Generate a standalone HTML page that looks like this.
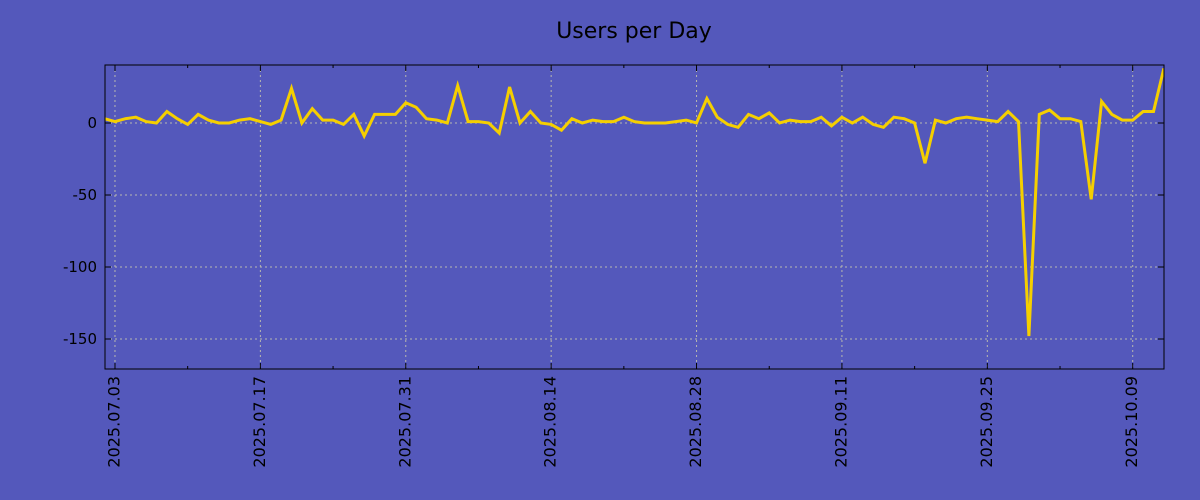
<!DOCTYPE html>
<html><head><meta charset="utf-8"><style>
html,body{margin:0;padding:0;background:#5458bb;}
svg{display:block;font-family:"DejaVu Sans","Liberation Sans",sans-serif;}
</style></head><body>
<svg id="chart" width="1200" height="500" viewBox="0 0 1200 500" xmlns="http://www.w3.org/2000/svg">
<rect x="0" y="0" width="1200" height="500" fill="#5458bb"/>
<text x="634" y="38" font-size="22" text-anchor="middle" fill="#000">Users per Day</text>
<g id="grid"></g>
<g id="series"></g>
<g id="axes"></g>
</svg>
<script>
const values = [3,1,3,4,1,0,8,3,-1,6,2,0,0,2,3,1,-1,2,24,0,10,2,2,-1,6,-9,6,6,6,14,11,3,2,0,26,1,1,0,-7,25,0,8,0,-1,-5,3,0,2,1,1,4,1,0,0,0,1,2,0,17,4,-1,-3,6,3,7,0,2,1,1,4,-2,4,0,4,-1,-3,4,3,0,-28,2,0,3,4,3,2,1,8,1,-148,6,9,3,3,1,-53,15,6,2,2,8,8,38];
const yTicks = [0,-50,-100,-150];
const xLabels = ["2025.07.03","2025.07.17","2025.07.31","2025.08.14","2025.08.28","2025.09.11","2025.09.25","2025.10.09"];
const xLabelDays = [1,15,29,43,57,71,85,99];
const minorTickDays = [8,22,36,50,64,78,92];

const L=105,R=1164,T=65,B=369;
const xs = d => 104.6 + d*10.385;
const ys = v => 123 - v*1.44;
const NS="http://www.w3.org/2000/svg";
function mk(tag, attrs, parent){const e=document.createElementNS(NS,tag);for(const k in attrs)e.setAttribute(k,attrs[k]);parent.appendChild(e);return e;}
const grid=document.getElementById('grid'), series=document.getElementById('series'), axes=document.getElementById('axes');

yTicks.forEach(v=>{
  const g=mk('line',{x1:L,x2:R,y1:ys(v),y2:ys(v),stroke:'#b8b8b0','stroke-width':1,'stroke-dasharray':'2,3'},grid);
  
  
});
xLabelDays.forEach(d=>{
  const g=mk('line',{x1:xs(d),x2:xs(d),y1:T,y2:B,stroke:'#b8b8b0','stroke-width':1,'stroke-dasharray':'2,3'},grid);
  
  
});

const clip=mk('clipPath',{id:'pc'},document.getElementById('chart'));
mk('rect',{x:L,y:T,width:R-L,height:B-T},clip);
const pts=values.map((v,i)=>xs(i).toFixed(1)+','+ys(v).toFixed(1)).join(' ');
const line=mk('polyline',{points:pts,fill:'none',stroke:'#f5cf00','stroke-width':3,'stroke-linejoin':'miter','clip-path':'url(#pc)'},series);



const frame=mk('rect',{x:L,y:T,width:R-L,height:B-T,fill:'none',stroke:'#000','stroke-width':1},axes);



yTicks.forEach(v=>{
  const y=ys(v);
  mk('line',{x1:L,x2:L+6,y1:y,y2:y,stroke:'#000'},axes);
  mk('line',{x1:R-6,x2:R,y1:y,y2:y,stroke:'#000'},axes);
  const t=mk('text',{x:L-8,y:y+5,'font-size':15,'text-anchor':'end',fill:'#000'},axes);
  t.textContent=v;
  
  
});
xLabelDays.forEach((d,i)=>{
  const x=xs(d);
  mk('line',{x1:x,x2:x,y1:B,y2:B-6,stroke:'#000'},axes);
  mk('line',{x1:x,x2:x,y1:T,y2:T+6,stroke:'#000'},axes);
  const t=mk('text',{x:0,y:0,'font-size':16,'text-anchor':'end',fill:'#000',transform:`translate(${x+4.5},${B+7}) rotate(-90)`},axes);
  t.textContent=xLabels[i];
  
  
});
minorTickDays.forEach(d=>{
  const x=xs(d);
  mk('line',{x1:x,x2:x,y1:B,y2:B-3,stroke:'#000'},axes);
  mk('line',{x1:x,x2:x,y1:T,y2:T+3,stroke:'#000'},axes);
});
</script>
</body></html>
